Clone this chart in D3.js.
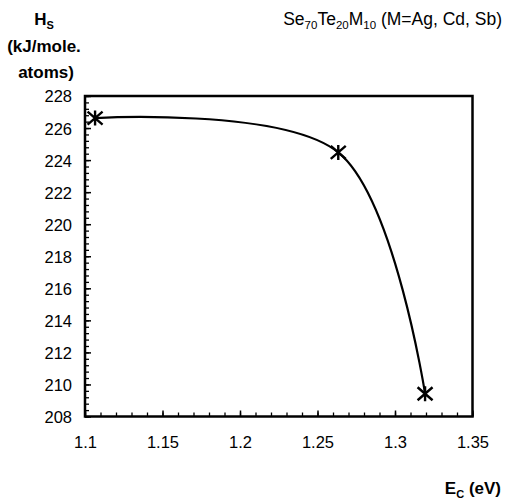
<!DOCTYPE html>
<html>
<head>
<meta charset="utf-8">
<script src="https://cdn.jsdelivr.net/npm/d3@7"></script>
<style>
  body { margin: 0; background: #fff; }
  text { font-family: "Liberation Sans", Arial, sans-serif; fill: #000; }
</style>
</head>
<body>
<div id="chart"></div>
<script>
// data
const ecValues = [1.1065, 1.2634, 1.3194];
const hsValues = [226.62, 224.48, 209.42];
const xTicks = [1.1, 1.15, 1.2, 1.25, 1.3, 1.35];
const yTicks = [208, 210, 212, 214, 216, 218, 220, 222, 224, 226, 228];

const width = 505, height = 502;
const plotLeft = 85, plotRight = 472.5, plotTop = 96, plotBottom = 416.5;

const svg = d3.select("#chart").append("svg")
    .attr("width", width)
    .attr("height", height);

const xScale = d3.scaleLinear().domain([1.1, 1.35]).range([plotLeft, plotRight]);
const yScale = d3.scaleLinear().domain([208, 228]).range([plotBottom, plotTop]);

// minor ticks
let xMinor = d3.range(0, 26).map(i => 1.1 + i * 0.01);
let yMinor = d3.range(0, 51).map(i => 208 + i * 0.4);

svg.append("g")
    .attr("transform", "translate(0," + plotBottom + ")")
    .call(d3.axisBottom(xScale).tickValues(xMinor).tickSize(-4).tickFormat(""))
    .call(g => g.select(".domain").remove())
    .selectAll("line").attr("stroke", "#000").attr("stroke-width", 1.3);

svg.append("g")
    .attr("transform", "translate(" + plotLeft + ",0)")
    .call(d3.axisLeft(yScale).tickValues(yMinor).tickSize(-4).tickFormat(""))
    .call(g => g.select(".domain").remove())
    .selectAll("line").attr("stroke", "#000").attr("stroke-width", 1.3);

// major ticks + labels
let xAxis = svg.append("g")
    .attr("transform", "translate(0," + plotBottom + ")")
    .call(d3.axisBottom(xScale).tickValues(xTicks).tickSize(-6).tickFormat(d => d3.format("")(+d.toFixed(2))))
    .call(g => g.select(".domain").remove());
xAxis.selectAll("line").attr("stroke", "#000").attr("stroke-width", 1.5);
xAxis.selectAll("text").style("font-size", "16.5px").attr("dy", 0).attr("y", 31.5);

let yAxis = svg.append("g")
    .attr("transform", "translate(" + plotLeft + ",0)")
    .call(d3.axisLeft(yScale).tickValues(yTicks).tickSize(-6))
    .call(g => g.select(".domain").remove());
yAxis.selectAll("line").attr("stroke", "#000").attr("stroke-width", 1.5);
yAxis.selectAll("text").style("font-size", "16.5px").attr("dy", "0.36em").attr("x", -13);

// frame
svg.append("rect")
    .attr("x", plotLeft).attr("y", plotTop)
    .attr("width", plotRight - plotLeft).attr("height", plotBottom - plotTop)
    .attr("fill", "none").attr("stroke", "#000").attr("stroke-width", 2.5);

// smoothed line
let points = ecValues.map((e, i) => [e, hsValues[i]]);
let lineGenerator = d3.line()
    .x(d => xScale(d[0]))
    .y(d => yScale(d[1]))
    .curve(d3.curveCatmullRom.alpha(0.5));
svg.append("path")
    .attr("d", lineGenerator(points))
    .attr("fill", "none")
    .attr("stroke", "#000")
    .attr("stroke-width", 2.2);

// star markers
let markers = svg.append("g").selectAll("g")
    .data(points).enter().append("g")
    .attr("transform", d => "translate(" + xScale(d[0]) + "," + yScale(d[1]) + ")");
markers.append("path")
    .attr("d", "M-7.5,-6.5L7.5,6.5M-7.5,6.5L7.5,-6.5M0,-7.5L0,7.5")
    .attr("stroke", "#000")
    .attr("stroke-width", 2.4)
    .attr("fill", "none");

// title
let title = svg.append("text")
    .attr("x", 502).attr("y", 25)
    .attr("text-anchor", "end")
    .style("font-size", "17.5px");
title.append("tspan").text("Se");
title.append("tspan").text("70").style("font-size", "11.5px").attr("dy", 4);
title.append("tspan").text("Te").attr("dy", -4);
title.append("tspan").text("20").style("font-size", "11.5px").attr("dy", 4);
title.append("tspan").text("M").attr("dy", -4);
title.append("tspan").text("10").style("font-size", "11.5px").attr("dy", 4);
title.append("tspan").text(" (M=Ag, Cd, Sb)").attr("dy", -4);

// y axis label
let yl = svg.append("text")
    .attr("x", 44).attr("y", 25)
    .attr("text-anchor", "middle")
    .style("font-size", "17px").style("font-weight", "bold");
yl.append("tspan").text("H");
yl.append("tspan").text("S").style("font-size", "11px").attr("dy", 4);
svg.append("text").attr("x", 44).attr("y", 52)
    .attr("text-anchor", "middle")
    .style("font-size", "17px").style("font-weight", "bold")
    .text("(kJ/mole.");
svg.append("text").attr("x", 46).attr("y", 78)
    .attr("text-anchor", "middle")
    .style("font-size", "17px").style("font-weight", "bold")
    .text("atoms)");

// x axis label
let xl = svg.append("text")
    .attr("x", 501).attr("y", 494)
    .attr("text-anchor", "end")
    .style("font-size", "17px").style("font-weight", "bold");
xl.append("tspan").text("E");
xl.append("tspan").text("C").style("font-size", "11px").attr("dy", 4);
xl.append("tspan").text(" (eV)").attr("dy", -4);
</script>
</body>
</html>
